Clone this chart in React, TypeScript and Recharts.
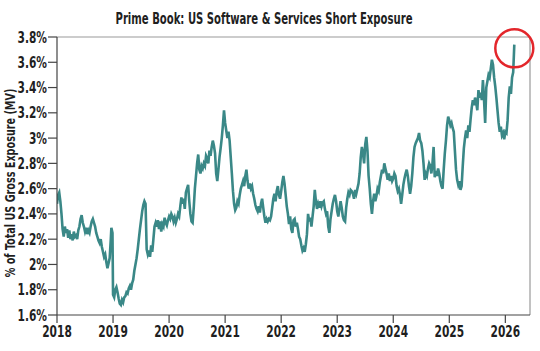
import React from "react";
import { LineChart, Line, XAxis, YAxis, ReferenceLine, ReferenceDot, Label } from "recharts";

const title = "Prime Book: US Software & Services Short Exposure";
const yAxisTitle = "% of Total US Gross Exposure (MV)";

const dates: number[] = [
  2018.00, 2018.02, 2018.04, 2018.06, 2018.08, 2018.10, 2018.12, 2018.14, 2018.16, 2018.18,
  2018.20, 2018.22, 2018.24, 2018.26, 2018.28, 2018.30, 2018.32, 2018.34, 2018.36, 2018.38,
  2018.40, 2018.42, 2018.44, 2018.46, 2018.48, 2018.50, 2018.52, 2018.54, 2018.56, 2018.58,
  2018.60, 2018.62, 2018.64, 2018.66, 2018.68, 2018.70, 2018.72, 2018.74, 2018.76, 2018.78,
  2018.80, 2018.82, 2018.84, 2018.86, 2018.88, 2018.90, 2018.92, 2018.94, 2018.96, 2018.97,
  2018.99, 2019.00, 2019.02, 2019.04, 2019.06, 2019.08, 2019.10, 2019.12, 2019.14, 2019.16,
  2019.18, 2019.20, 2019.22, 2019.24, 2019.26, 2019.28, 2019.30, 2019.32, 2019.34, 2019.36,
  2019.38, 2019.40, 2019.42, 2019.44, 2019.46, 2019.48, 2019.50, 2019.52, 2019.54, 2019.56,
  2019.58, 2019.60, 2019.62, 2019.64, 2019.66, 2019.68, 2019.70, 2019.72, 2019.74, 2019.76,
  2019.78, 2019.80, 2019.82, 2019.84, 2019.86, 2019.88, 2019.90, 2019.92, 2019.94, 2019.96,
  2019.98, 2020.00, 2020.02, 2020.04, 2020.06, 2020.08, 2020.10, 2020.12, 2020.14, 2020.16,
  2020.18, 2020.20, 2020.22, 2020.24, 2020.26, 2020.28, 2020.30, 2020.32, 2020.34, 2020.36,
  2020.38, 2020.40, 2020.42, 2020.44, 2020.46, 2020.48, 2020.50, 2020.52, 2020.54, 2020.56,
  2020.58, 2020.60, 2020.62, 2020.64, 2020.66, 2020.68, 2020.70, 2020.72, 2020.74, 2020.76,
  2020.78, 2020.80, 2020.82, 2020.84, 2020.86, 2020.88, 2020.90, 2020.92, 2020.94, 2020.96,
  2020.98, 2021.00, 2021.02, 2021.04, 2021.06, 2021.08, 2021.10, 2021.12, 2021.14, 2021.16,
  2021.18, 2021.20, 2021.22, 2021.24, 2021.26, 2021.28, 2021.30, 2021.32, 2021.34, 2021.36,
  2021.38, 2021.40, 2021.42, 2021.44, 2021.46, 2021.48, 2021.50, 2021.52, 2021.54, 2021.56,
  2021.58, 2021.60, 2021.62, 2021.64, 2021.66, 2021.68, 2021.70, 2021.72, 2021.74, 2021.76,
  2021.78, 2021.80, 2021.82, 2021.84, 2021.86, 2021.88, 2021.90, 2021.92, 2021.94, 2021.96,
  2021.98, 2022.00, 2022.02, 2022.04, 2022.06, 2022.08, 2022.10, 2022.12, 2022.14, 2022.16,
  2022.18, 2022.20, 2022.22, 2022.24, 2022.26, 2022.28, 2022.30, 2022.32, 2022.34, 2022.36,
  2022.38, 2022.40, 2022.42, 2022.44, 2022.46, 2022.48, 2022.50, 2022.52, 2022.54, 2022.56,
  2022.58, 2022.60, 2022.62, 2022.64, 2022.66, 2022.68, 2022.70, 2022.72, 2022.74, 2022.76,
  2022.78, 2022.80, 2022.82, 2022.84, 2022.86, 2022.88, 2022.90, 2022.92, 2022.94, 2022.96,
  2022.98, 2023.00, 2023.02, 2023.04, 2023.06, 2023.08, 2023.10, 2023.12, 2023.14, 2023.16,
  2023.18, 2023.20, 2023.22, 2023.24, 2023.26, 2023.28, 2023.30, 2023.32, 2023.34, 2023.36,
  2023.38, 2023.40, 2023.42, 2023.44, 2023.46, 2023.48, 2023.50, 2023.52, 2023.54, 2023.56,
  2023.58, 2023.60, 2023.62, 2023.64, 2023.66, 2023.68, 2023.70, 2023.72, 2023.74, 2023.76,
  2023.78, 2023.80, 2023.82, 2023.84, 2023.86, 2023.88, 2023.90, 2023.92, 2023.94, 2023.96,
  2023.98, 2024.00, 2024.02, 2024.04, 2024.06, 2024.08, 2024.10, 2024.12, 2024.14, 2024.16,
  2024.18, 2024.20, 2024.22, 2024.24, 2024.26, 2024.28, 2024.30, 2024.32, 2024.34, 2024.36,
  2024.38, 2024.40, 2024.42, 2024.44, 2024.46, 2024.48, 2024.50, 2024.52, 2024.54, 2024.56,
  2024.58, 2024.60, 2024.62, 2024.64, 2024.66, 2024.68, 2024.70, 2024.72, 2024.74, 2024.76,
  2024.78, 2024.80, 2024.82, 2024.84, 2024.86, 2024.88, 2024.90, 2024.92, 2024.94, 2024.96,
  2024.98, 2025.00, 2025.02, 2025.04, 2025.06, 2025.08, 2025.10, 2025.12, 2025.14, 2025.16,
  2025.18, 2025.20, 2025.22, 2025.24, 2025.26, 2025.28, 2025.30, 2025.32, 2025.34, 2025.36,
  2025.38, 2025.40, 2025.42, 2025.44, 2025.46, 2025.48, 2025.50, 2025.52, 2025.54, 2025.56,
  2025.58, 2025.60, 2025.62, 2025.64, 2025.66, 2025.68, 2025.70, 2025.72, 2025.74, 2025.76,
  2025.78, 2025.80, 2025.82, 2025.84, 2025.86, 2025.88, 2025.90, 2025.92, 2025.94, 2025.96,
  2025.98, 2026.00, 2026.02, 2026.04, 2026.06, 2026.08, 2026.10, 2026.12, 2026.14, 2026.16,
];

const exposure: number[] = [
  2.48, 2.55, 2.57, 2.50, 2.40, 2.28, 2.22, 2.30, 2.25, 2.28,
  2.21, 2.27, 2.20, 2.24, 2.19, 2.26, 2.22, 2.23, 2.20, 2.27,
  2.30, 2.36, 2.39, 2.33, 2.30, 2.26, 2.29, 2.24, 2.27, 2.25,
  2.30, 2.34, 2.36, 2.33, 2.30, 2.25, 2.22, 2.19, 2.17, 2.20,
  2.14, 2.10, 2.06, 2.08, 2.02, 1.97, 2.01, 2.05, 2.20, 2.29,
  2.25, 1.76, 1.74, 1.80, 1.82, 1.78, 1.73, 1.69, 1.68, 1.72,
  1.70, 1.74, 1.75, 1.78, 1.77, 1.81, 1.83, 1.80, 1.85, 1.88,
  1.95, 2.00, 2.05, 2.12, 2.20, 2.28, 2.35, 2.42, 2.47, 2.50,
  2.48, 2.12, 2.08, 2.11, 2.06, 2.15, 2.10, 2.20, 2.30, 2.33,
  2.30, 2.35, 2.28, 2.34, 2.26, 2.32, 2.30, 2.37, 2.33, 2.31,
  2.35, 2.38, 2.36, 2.40, 2.38, 2.34, 2.37, 2.33, 2.36, 2.40,
  2.38, 2.46, 2.53, 2.48, 2.52, 2.44, 2.57, 2.60, 2.63, 2.50,
  2.40, 2.34, 2.33, 2.45, 2.60, 2.70, 2.80, 2.87, 2.75, 2.72,
  2.78, 2.76, 2.80, 2.78, 2.86, 2.84, 2.80, 2.90, 2.86, 2.93,
  2.98, 2.94, 2.88, 2.72, 2.66, 2.75, 2.85, 2.92, 3.00, 3.10,
  3.22, 3.12, 3.06, 3.00, 3.05, 2.98, 2.85, 2.72, 2.58, 2.48,
  2.43, 2.45, 2.50, 2.48, 2.55, 2.60, 2.63, 2.66, 2.62, 2.70,
  2.75, 2.66, 2.60, 2.64, 2.60, 2.62, 2.56, 2.52, 2.47, 2.44,
  2.42, 2.46, 2.41, 2.48, 2.52, 2.45, 2.38, 2.33, 2.36, 2.34,
  2.36, 2.35, 2.38, 2.45, 2.52, 2.56, 2.50, 2.58, 2.62, 2.55,
  2.52, 2.58, 2.65, 2.70, 2.64, 2.55, 2.46, 2.40, 2.32, 2.38,
  2.28, 2.25, 2.35, 2.36, 2.30, 2.33, 2.28, 2.22, 2.20, 2.15,
  2.11, 2.13, 2.10, 2.16, 2.24, 2.40, 2.34, 2.37, 2.30, 2.38,
  2.46, 2.59, 2.50, 2.44, 2.48, 2.45, 2.50, 2.46, 2.49, 2.50,
  2.44, 2.40, 2.42, 2.30, 2.25, 2.36, 2.42, 2.48, 2.52, 2.55,
  2.50, 2.42, 2.38, 2.44, 2.50, 2.45, 2.38, 2.35, 2.34, 2.45,
  2.52, 2.57, 2.55, 2.59, 2.58, 2.56, 2.52, 2.59, 2.56, 2.60,
  2.64, 2.72, 2.85, 2.93, 2.88, 2.80, 2.95, 3.01, 2.90, 2.70,
  2.60, 2.48, 2.40, 2.50, 2.56, 2.50, 2.54, 2.60, 2.58, 2.65,
  2.70, 2.75, 2.72, 2.80, 2.76, 2.72, 2.67, 2.72, 2.66, 2.70,
  2.66, 2.68, 2.72, 2.70, 2.62, 2.58, 2.60, 2.55, 2.48, 2.55,
  2.63, 2.68, 2.72, 2.75, 2.70, 2.62, 2.56, 2.62, 2.72, 2.85,
  2.93, 2.96, 2.98, 3.00, 3.04, 2.98, 2.96, 2.90, 2.80, 2.67,
  2.72, 2.70, 2.76, 2.80, 2.78, 2.72, 2.80, 2.93, 2.69, 2.74,
  2.70, 2.76, 2.72, 2.66, 2.62, 2.60, 2.75, 2.88, 2.98, 3.10,
  3.17, 3.14, 3.10, 3.12, 3.08, 3.05, 2.90, 2.75, 2.67, 2.63,
  2.66, 2.59, 2.62, 2.78, 2.92, 3.00, 3.06, 3.00, 3.10, 3.05,
  3.15, 3.24, 3.30, 3.26, 3.32, 3.28, 3.22, 3.38, 3.32, 3.36,
  3.30, 3.46, 3.30, 3.12, 3.40, 3.45, 3.50, 3.48, 3.55, 3.62,
  3.58, 3.48, 3.41, 3.32, 3.22, 3.12, 3.05, 3.09, 3.02, 3.04,
  2.99, 3.05, 3.04, 3.14, 3.32, 3.41, 3.35, 3.48, 3.52, 3.74,
];

const xTicks: number[] = [2018, 2019, 2020, 2021, 2022, 2023, 2024, 2025, 2026];
const yTicks: number[] = [1.6, 1.8, 2.0, 2.2, 2.4, 2.6, 2.8, 3.0, 3.2, 3.4, 3.6, 3.8];
const xDomain: [number, number] = [2018, 2026.44];
const yDomain: [number, number] = [1.6, 3.8];
const highlight = { x: 2026.16, y: 3.71 };

const data = dates.map((d, i) => ({ t: d, v: exposure[i] }));

const FONT = "'DejaVu Sans Condensed', 'Liberation Sans Narrow', 'Roboto', sans-serif";
const TEAL = "#3a8887";
const TEXT = "#1f1f1f";
const SX = 0.74;
const TITLE_SX = 0.7;

const fmtY = (v: number) => (Math.round(v * 10) / 10).toString() + "%";

const XTick = (props: any) => {
  const { x, y, payload } = props;
  return (
    <text
      transform={`translate(${x},${y + 12}) scale(${SX},1)`}
      textAnchor="middle"
      fontFamily={FONT}
      fontWeight="bold"
      fontSize={16}
      fill={TEXT}
    >
      {String(payload.value)}
    </text>
  );
};

const YTick = (props: any) => {
  const { x, y, payload } = props;
  return (
    <text
      transform={`translate(${x},${y + 5.5}) scale(${SX},1)`}
      textAnchor="end"
      fontFamily={FONT}
      fontWeight="bold"
      fontSize={16}
      fill={TEXT}
    >
      {fmtY(payload.value)}
    </text>
  );
};

const YLabel = () => (
  <text
    transform={`translate(14.5,183) rotate(-90) scale(${SX},1)`}
    textAnchor="middle"
    fontFamily={FONT}
    fontWeight="bold"
    fontSize={14.5}
    fill={TEXT}
  >
    {yAxisTitle}
  </text>
);

export default function App() {
  return (
    <div style={{ position: "absolute", left: 0, top: 0, width: 540, height: 351, background: "#fff" }}>
      <div
        style={{
          position: "absolute",
          top: 11,
          left: 0,
          width: 528,
          textAlign: "center",
          fontFamily: FONT,
          fontWeight: "bold",
          fontSize: 16,
          lineHeight: "16px",
          color: TEXT,
          transform: `scaleX(${TITLE_SX})`,
          transformOrigin: "264px 50%",
          whiteSpace: "nowrap",
        }}
      >
        {title}
      </div>
      <LineChart width={540} height={351} data={data} margin={{ top: 37, right: 10, bottom: 0, left: 0 }}>
        <XAxis
          dataKey="t"
          type="number"
          domain={xDomain}
          ticks={xTicks}
          allowDataOverflow
          height={36}
          tickSize={8}
          tickMargin={2}
          stroke="#444"
          strokeWidth={1.2}
          tick={<XTick />}
        />
        <YAxis
          type="number"
          domain={yDomain}
          ticks={yTicks}
          allowDataOverflow
          width={57}
          tickSize={9}
          tickMargin={1}
          stroke="#444"
          strokeWidth={1.2}
          tick={<YTick />}
        >
          <Label content={<YLabel />} />
        </YAxis>
        <ReferenceLine y={3.8} stroke="#999" strokeWidth={1.2} />
        <ReferenceLine x={xDomain[1]} stroke="#999" strokeWidth={1.2} />
        <Line
          type="linear"
          dataKey="v"
          stroke={TEAL}
          strokeWidth={2.6}
          dot={false}
          isAnimationActive={false}
        />
        <ReferenceDot
          x={highlight.x}
          y={highlight.y}
          r={19}
          fill="none"
          stroke="#e3262b"
          strokeWidth={2.5}
          ifOverflow="visible"
        />
      </LineChart>
    </div>
  );
}
